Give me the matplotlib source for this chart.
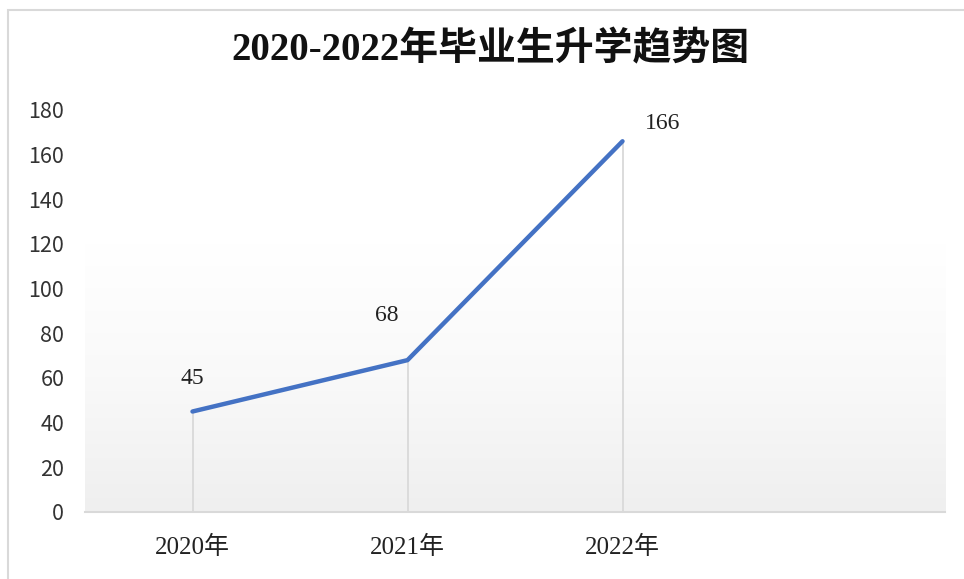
import numpy as np
import matplotlib
matplotlib.use('Agg')
import matplotlib.pyplot as plt
from matplotlib.colors import LinearSegmentedColormap
from matplotlib.patches import Rectangle

# data
years = ['2020年', '2021年', '2022年']
students = [45, 68, 166]
label_offsets = [(0, 24), (-15, 32), (29, 13)]  # data label nudges, in points

serif_cjk = ['Liberation Serif', 'Noto Sans CJK SC']
sans_cjk = ['Noto Sans CJK SC', 'DejaVu Sans']

fig = plt.figure(figsize=(9.64, 5.79), dpi=100)
fig.patch.set_facecolor('white')

# chart frame (top and left edges show in the crop)
fig.patches.append(Rectangle((8 / 964, -0.05), 1.2, (579 - 10) / 579 + 0.05,
                             transform=fig.transFigure, fill=False,
                             edgecolor='#d9d9d9', linewidth=1.5))

ax = fig.add_axes([85 / 964, (579 - 512) / 579, 860 / 964, 402 / 579])

# soft vertical gradient in plot area
cmap = LinearSegmentedColormap.from_list('bg', ['#efefef', '#f9f9f9', '#ffffff', '#ffffff'])
grad = np.linspace(0, 1, 256).reshape(-1, 1)
ax.imshow(grad, extent=[0, 1, 0, 1], transform=ax.transAxes, aspect='auto',
          cmap=cmap, origin='lower', zorder=0)

x = np.arange(len(years))
ax.vlines(x, 0, students, color='#d9d9d9', linewidth=1.3, zorder=1)
ax.plot(x, students, color='#4472C4', linewidth=3.2, solid_capstyle='round', zorder=3)

for xi, v, off in zip(x, students, label_offsets):
    ax.annotate(str(v), (xi, v), xytext=off, textcoords='offset points',
                ha='center', va='center', fontsize=17, family=serif_cjk, color='#222222')

ax.set_xlim(-0.5, 3.5)
ax.set_ylim(0, 180)
ax.set_yticks(range(0, 181, 20))
ax.set_xticks(x)
ax.set_xticklabels(years, family=serif_cjk, fontsize=18, color='#222222')
for lab in ax.get_yticklabels():
    lab.set_family(sans_cjk)
    lab.set_fontsize(15.5)
    lab.set_color('#333333')
ax.tick_params(axis='both', length=0)
ax.tick_params(axis='y', pad=15)
ax.tick_params(axis='x', pad=17)

for s in ['top', 'right', 'left']:
    ax.spines[s].set_visible(False)
ax.spines['bottom'].set_color('#d9d9d9')
ax.spines['bottom'].set_linewidth(1.5)

fig.text(490 / 964, 1 - 51 / 579, '2020-2022年毕业生升学趋势图', ha='center', va='center',
         fontsize=28, fontweight='bold', family=serif_cjk, color='#111111')

fig.savefig('out.png', dpi=100)
